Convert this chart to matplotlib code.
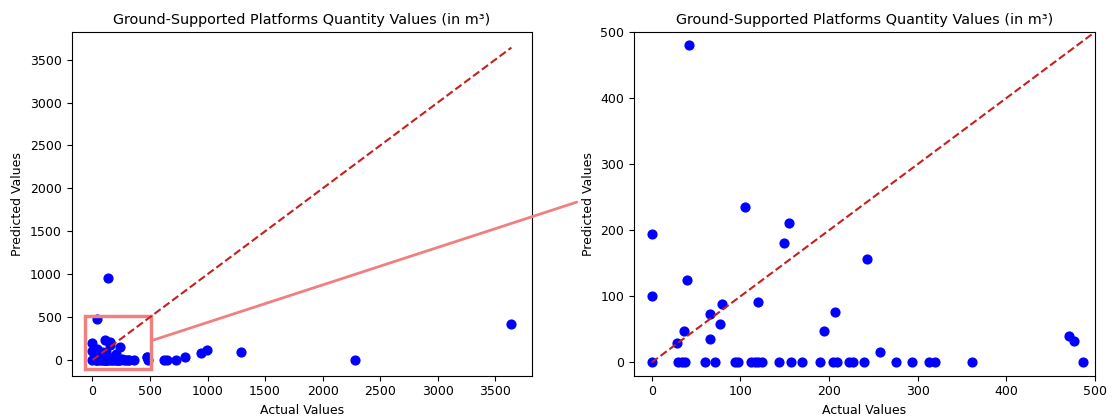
import numpy as np
import matplotlib
matplotlib.use("Agg")
import matplotlib.pyplot as plt
from matplotlib.patches import Rectangle, ConnectionPatch

# values
actual = [0, 30, 34, 38, 60, 71, 94, 97, 112, 116, 120, 124, 144, 157, 170,
          190, 205, 209, 223, 227, 240, 276, 294, 313, 319, 361, 486,
          0, 0, 28, 36, 40, 42, 66, 66, 79, 77, 105, 120, 149, 155, 194,
          207, 243, 257, 471, 476,
          136, 623, 649, 724, 806, 942, 997, 1295, 2281, 3640]
predicted = [0, 0, 0, 0, 0, 0, 0, 0, 0, 0, 0, 0, 0, 0, 0,
             0, 0, 0, 0, 0, 0, 0, 0, 0, 0, 0, 0,
             195, 101, 29, 48, 125, 480, 73, 36, 89, 58, 235, 91, 180, 211, 47,
             76, 157, 16, 40, 32,
             961, 0, 0, 0, 31, 78, 117, 94, 0, 425]

title = "Ground-Supported Platforms Quantity Values (in m³)"
zoom_box = (-67, -106, 580, 625)  # x, y, width, height of the highlight box

actual = np.array(actual)
predicted = np.array(predicted)
lo = min(actual.min(), predicted.min())
hi = max(actual.max(), predicted.max())

fig, (ax1, ax2) = plt.subplots(1, 2, figsize=(11.12, 4.16), dpi=100)
ax1.set_position([0.0643, 0.0969, 0.4144, 0.8262])
ax2.set_position([0.5701, 0.0969, 0.4146, 0.8262])

for ax in (ax1, ax2):
    ax.scatter(actual, predicted, color="blue", s=40)
    ax.plot([lo, hi], [lo, hi], "--", color="#c42020", lw=1.5)
    ax.set_title(title, fontsize=10.4)
    ax.set_xlabel("Actual Values", fontsize=9)
    ax.set_ylabel("Predicted Values", fontsize=9)
    ax.tick_params(labelsize=9)

ax1.set_xticks([0, 500, 1000, 1500, 2000, 2500, 3000, 3500])
ax1.set_yticks([0, 500, 1000, 1500, 2000, 2500, 3000, 3500])

rect = Rectangle(zoom_box[:2], zoom_box[2], zoom_box[3], fill=False,
                 edgecolor="lightcoral", lw=2.5)
ax1.add_patch(rect)

ax2.set_xlim(-20, 500)
ax2.set_ylim(-20, 500)

con = ConnectionPatch(xyA=(zoom_box[0] + zoom_box[2], 226), coordsA=ax1.transData,
                      xyB=(-0.124, 0.505), coordsB=ax2.transAxes,
                      color="lightcoral", lw=2)
fig.add_artist(con)

fig.savefig("out.png", dpi=100)
